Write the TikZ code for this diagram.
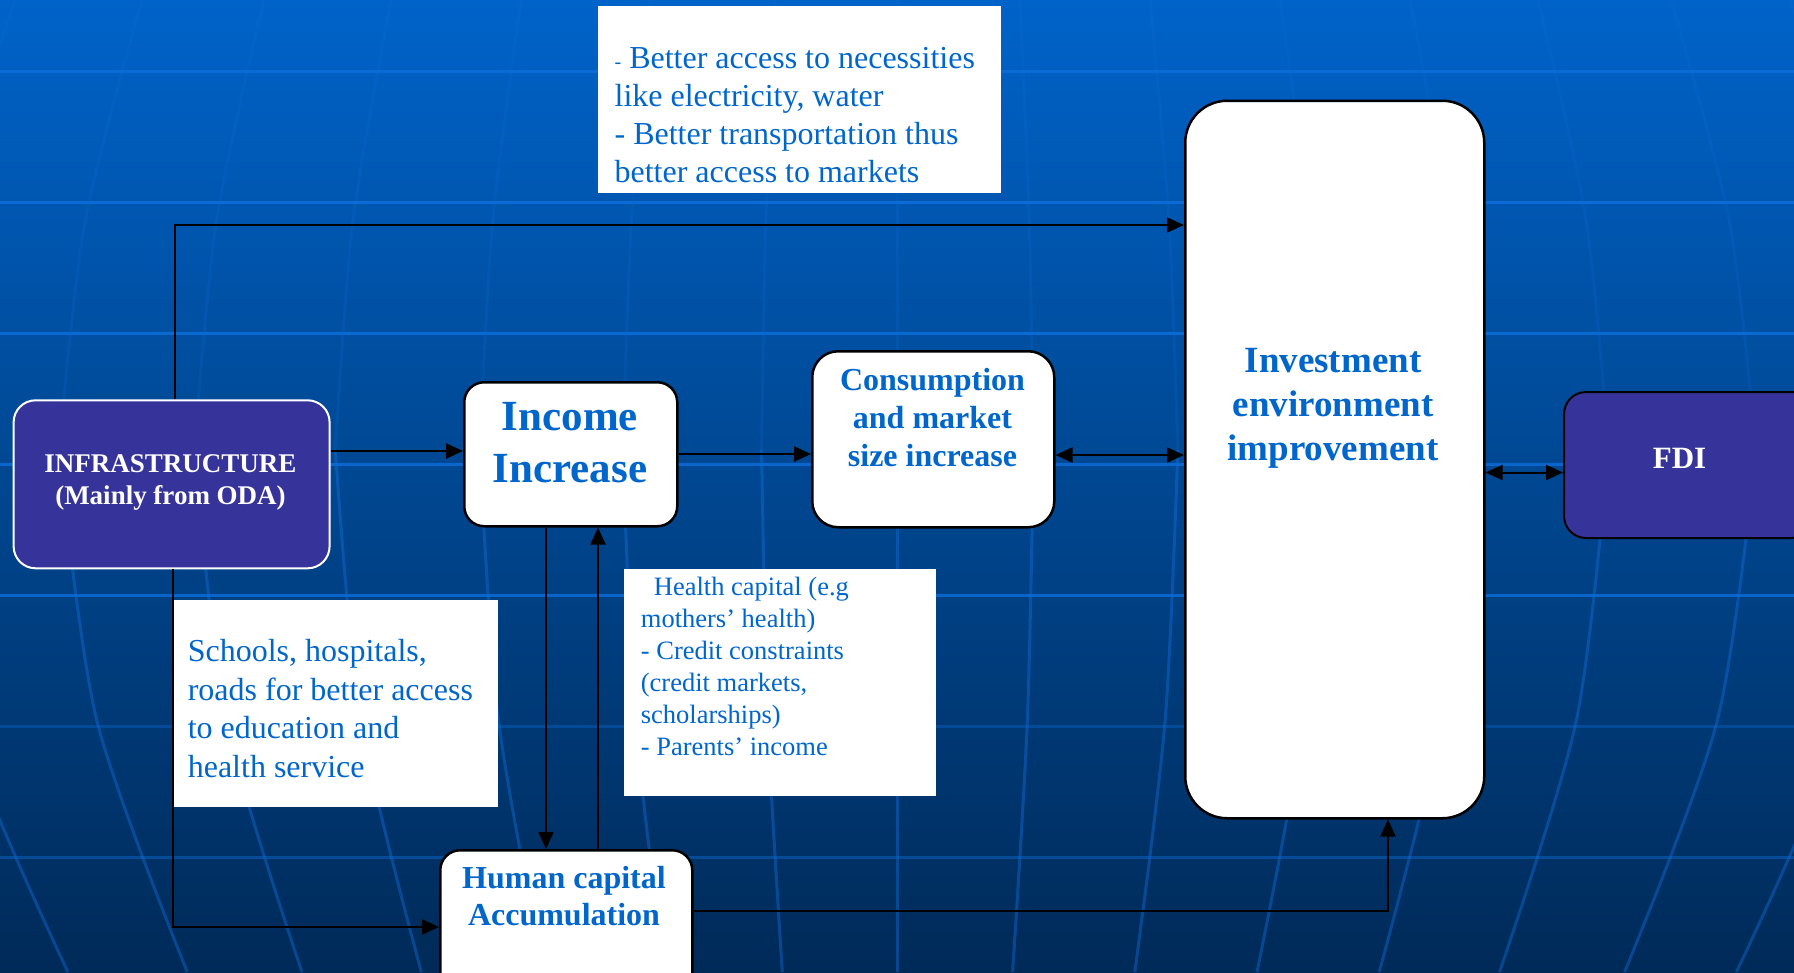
\documentclass[tikz,border=0pt]{standalone}
\usepackage{fontspec}
\setmainfont{Liberation Serif}
\usetikzlibrary{arrows.meta,calc}
\definecolor{bgtop}{RGB}{0,99,201}
\definecolor{bgmid}{RGB}{0,74,152}
\definecolor{bgbot}{RGB}{0,42,88}
\definecolor{gridc}{RGB}{12,108,216}
\definecolor{merc}{RGB}{20,110,220}
\definecolor{txtblue}{RGB}{0,102,204}
\definecolor{purplebox}{RGB}{54,52,154}
\begin{document}
\begin{tikzpicture}[x=1pt,y=-1pt,
  conn/.style={line width=2pt, draw=black},
  arr/.style={conn, -{Triangle[length=17pt,width=15pt]}},
  darr/.style={conn, {Triangle[length=17pt,width=15pt]}-{Triangle[length=17pt,width=15pt]}},
  whitebox/.style={draw=black, line width=2.5pt, fill=white, inner sep=0pt, anchor=north west},
  purplebox/.style={fill=purplebox, line width=2pt, inner sep=0pt, anchor=north west},
  notebox/.style={fill=white, inner sep=0pt, anchor=north west},
  boldtxt/.style={text=txtblue, font=\bfseries, align=center, inner sep=0pt},
  notetxt/.style={text=txtblue, align=left, inner sep=0pt, anchor=west},
  hline/.style={draw=gridc, line width=3pt},
  meridian/.style={draw=merc, line width=3pt}
]
\useasboundingbox (0,0) rectangle (1794,972);
\clip (0,0) rectangle (1794,972);
% background
\shade[top color=bgtop, middle color=bgmid, bottom color=bgbot] (0,0) rectangle (1794,972);
\foreach \xt in {15,142,264,391,521,650,775,897,1020,1150,1280,1410,1538,1671,1790}{
  \draw[meridian, opacity=0.18] plot[smooth] coordinates {(\xt,0) ({897+(\xt-897)*1.075},220) ({897+(\xt-897)*1.11},450)};
  \draw[meridian, opacity=0.42] plot[smooth] coordinates {({897+(\xt-897)*1.11},450) ({897+(\xt-897)*1.06},720) ({897+(\xt-897)*0.94},972)};
}
\foreach \yy/\op in {71/0.95,202/0.95,333/0.9,464/0.85,595/0.85,726/0.35,857/0.45}
  \draw[hline, opacity=\op] (0,\yy) -- (1794,\yy);

% boxes
\node[purplebox, draw=white, rounded corners=22pt, minimum width=316pt, minimum height=168pt] (infra) at (12.6,399.3) {};
\node[whitebox, rounded corners=20pt, minimum width=213pt, minimum height=144pt] (inc) at (463,381) {};
\node[whitebox, rounded corners=26pt, minimum width=242pt, minimum height=176pt] (cons) at (811,350) {};
\node[whitebox, rounded corners=42pt, minimum width=299pt, minimum height=717.5pt] (invest) at (1184,99.5) {};
\node[purplebox, draw=black, rounded corners=22pt, minimum width=250pt, minimum height=146pt] (fdi) at (1563,391) {};
\node[whitebox, rounded corners=20pt, minimum width=252pt, minimum height=150pt] (human) at (439,849) {};
\node[notebox, minimum width=403pt, minimum height=187pt] (topbox) at (598,6) {};
\node[notebox, minimum width=325pt, minimum height=207pt] (schoolbox) at (173,599.5) {};
\node[notebox, minimum width=312.5pt, minimum height=227.4pt] (healthbox) at (623.5,568.6) {};

% texts
\node[boldtxt, text=white, font=\bfseries\fontsize{27}{32}\selectfont] (infratxt) at (170.5,482.5) {INFRASTRUCTURE\\(Mainly from ODA)};
\node[boldtxt, font=\bfseries\fontsize{43}{51.5}\selectfont] (inctxt) at (570,442.5) {Income\\Increase};
\node[boldtxt, font=\bfseries\fontsize{32}{38.4}\selectfont] (constxt) at (932.5,417.5) {Consumption\\and market\\size increase};
\node[boldtxt, font=\bfseries\fontsize{37}{44}\selectfont] (investtxt) at (1333,408.5) {Investment\\environment\\improvement};
\node[boldtxt, text=white, font=\bfseries\fontsize{31}{36}\selectfont] (fditxt) at (1679.5,458.5) {FDI};
\node[boldtxt, font=\bfseries\fontsize{32}{37.8}\selectfont] (humantxt) at (564,896) {Human capital\\Accumulation};
\node[notetxt, font=\fontsize{32}{38.1}\selectfont] (toptxt) at (614.4,115) {{\fontsize{20}{20}\selectfont -} Better access to necessities\\like electricity, water\\- Better transportation thus\\better access to markets};
\node[notetxt, font=\fontsize{32}{38.5}\selectfont] (schooltxt) at (187.6,708.7) {Schools, hospitals,\\roads for better access\\to education and\\health service};
\node[notetxt, font=\fontsize{26.5}{32}\selectfont] (healthtxt) at (640.7,666.5) {\hspace*{13pt}Health capital (e.g\\mothers’ health)\\- Credit constraints\\(credit markets,\\scholarships)\\- Parents’ income};

% connectors
\draw[arr] ([xshift=3.5pt]infra.north) |- (invest.west |- 0,225);
\draw[arr] (infra.east |- 0,451) -- (inc.west |- 0,451);
\draw[arr] (inc.east |- 0,454) -- (cons.west |- 0,454);
\draw[darr] (cons.east |- 0,455) -- (invest.west |- 0,455);
\draw[darr] (invest.east |- 0,472.5) -- (fdi.west |- 0,472.5);
\draw[arr] ([xshift=1pt]infra.south) |- (human.west |- 0,927);
\draw[arr] (inc.south -| 546,0) -- (human.north -| 546,0);
\draw[arr] (human.north -| 598,0) -- (inc.south -| 598,0);
\draw[arr] (human.east |- 0,911) -| (invest.south -| 1388,0);
\end{tikzpicture}
\end{document}
